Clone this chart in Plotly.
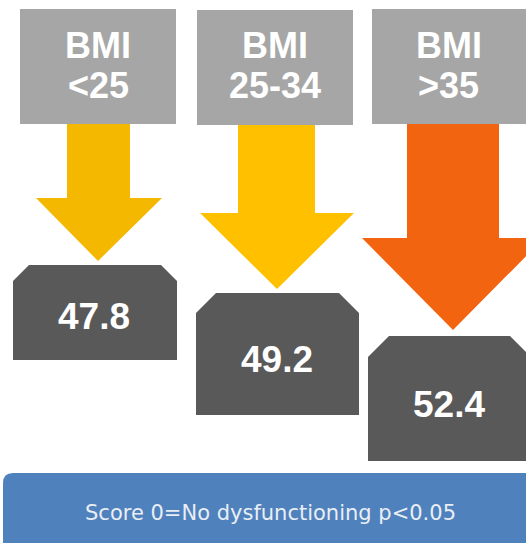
import plotly.graph_objects as go

# BMI groups and their mean scores
bmi_groups = ["&lt;25", "25-34", "&gt;35"]
scores = [47.8, 49.2, 52.4]
footnote = "Score 0=No dysfunctioning p&lt;0.05"

# Layout geometry (pixel units on a 526 x 543 canvas)
W, H = 526, 543
header_x0 = [20, 197, 372]
header_x1 = [176, 353, 527]
header_y0 = [9, 10, 9]
header_y1 = [124, 125, 124]

shaft_x0 = [67, 238, 407]
shaft_x1 = [130, 315, 499]
head_y = [198, 213, 238]
head_x0 = [36, 200, 362]
head_x1 = [162, 354, 544]
tip_x = [98, 277, 453]
tip_y = [261, 289, 330]
arrow_colors = ["#F5B800", "#FFC000", "#F26410"]

box_x0 = [13, 196, 368]
box_x1 = [177, 359, 531]
box_y0 = [265, 293, 336]
box_y1 = [360, 415, 461]
box_chamfer = [16, 20, 21]
label_y = [316, 359, 404]

GRAY = "#A6A6A6"
DARK = "#595959"
BLUE = "#4F81BD"

shapes = []
annotations = []

for i, grp in enumerate(bmi_groups):
    # header block
    shapes.append(dict(type="rect", xref="x", yref="y",
                       x0=header_x0[i], x1=header_x1[i],
                       y0=header_y0[i], y1=header_y1[i],
                       fillcolor=GRAY, line=dict(width=0), layer="below"))
    hx = (header_x0[i] + min(header_x1[i], W - 1)) / 2
    annotations.append(dict(x=hx, y=45, xref="x", yref="y", text="BMI",
                            showarrow=False,
                            font=dict(family="Liberation Sans, Arial", size=36,
                                      color="white", weight="bold")))
    annotations.append(dict(x=hx, y=85, xref="x", yref="y", text=grp,
                            showarrow=False,
                            font=dict(family="Liberation Sans, Arial", size=36,
                                      color="white", weight="bold")))

    # down arrow
    p = (f"M {shaft_x0[i]},{header_y1[i]} L {shaft_x1[i]},{header_y1[i]} "
         f"L {shaft_x1[i]},{head_y[i]} L {head_x1[i]},{head_y[i]} "
         f"L {tip_x[i]},{tip_y[i]} L {head_x0[i]},{head_y[i]} "
         f"L {shaft_x0[i]},{head_y[i]} Z")
    shapes.append(dict(type="path", xref="x", yref="y", path=p,
                       fillcolor=arrow_colors[i], line=dict(width=0),
                       layer="below"))

    # score block with clipped top corners
    c = box_chamfer[i]
    x0, x1, y0, y1 = box_x0[i], box_x1[i], box_y0[i], box_y1[i]
    p = (f"M {x0},{y1} L {x0},{y0 + c} L {x0 + c},{y0} L {x1 - c},{y0} "
         f"L {x1},{y0 + c} L {x1},{y1} Z")
    shapes.append(dict(type="path", xref="x", yref="y", path=p,
                       fillcolor=DARK, line=dict(width=0), layer="below"))
    annotations.append(dict(x=(x0 + x1) / 2 - 1, y=label_y[i], xref="x", yref="y",
                            text=f"{scores[i]:.1f}", showarrow=False,
                            font=dict(family="Liberation Sans, Arial", size=37,
                                      color="white", weight="bold")))

# footnote banner with rounded corners
bx0, bx1, by0, by1, r = 3, 540, 473, 553, 10
p = (f"M {bx0 + r},{by0} L {bx1 - r},{by0} Q {bx1},{by0} {bx1},{by0 + r} "
     f"L {bx1},{by1 - r} Q {bx1},{by1} {bx1 - r},{by1} L {bx0 + r},{by1} "
     f"Q {bx0},{by1} {bx0},{by1 - r} L {bx0},{by0 + r} Q {bx0},{by0} {bx0 + r},{by0} Z")
shapes.append(dict(type="path", xref="x", yref="y", path=p,
                   fillcolor=BLUE, line=dict(width=0), layer="below"))
annotations.append(dict(x=270, y=513, xref="x", yref="y", text=footnote,
                        showarrow=False,
                        font=dict(family="DejaVu Sans, Verdana", size=21,
                                  color="#E9EEF5")))

fig = go.Figure()
fig.update_layout(
    width=W, height=H,
    margin=dict(l=0, r=0, t=0, b=0),
    paper_bgcolor="white", plot_bgcolor="white",
    xaxis=dict(range=[0, W], visible=False, fixedrange=True),
    yaxis=dict(range=[H, 0], visible=False, fixedrange=True),
    shapes=shapes, annotations=annotations,
    showlegend=False,
)
fig.write_html("out.html", config={"displayModeBar": False})
